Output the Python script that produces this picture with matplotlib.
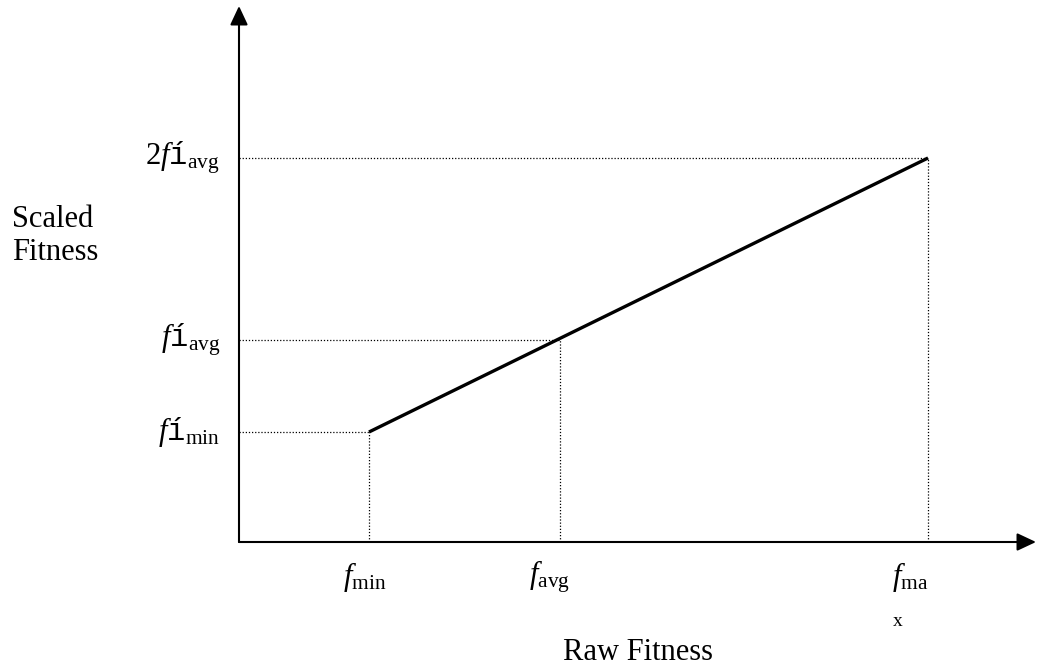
import matplotlib
matplotlib.use("Agg")
import matplotlib.pyplot as plt

# Fitness scaling diagram (schematic values, 1 unit = 100 px)
raw_points = [1.30, 3.21, 6.89]          # f_min, f_avg, f_max
scaled_points = [1.10, 2.02, 3.84]       # f'_min, f'_avg, 2f'_avg
x_labels = [r"$\mathit{f}\mathrm{_{min}}$", r"$\mathit{f}\mathrm{_{avg}}$", r"$\mathit{f}\mathrm{_{ma}}$"]
y_labels = [r"$\mathit{f}\mathtt{í}\mathrm{_{min}}$", r"$\mathit{f}\mathtt{í}\mathrm{_{avg}}$",
            r"$\mathit{2f}\mathtt{í}\mathrm{_{avg}}$"]

plt.rcParams["font.family"] = "Liberation Serif"
plt.rcParams["mathtext.fontset"] = "custom"
plt.rcParams["mathtext.it"] = "Liberation Serif:italic"
plt.rcParams["mathtext.rm"] = "Liberation Serif"
plt.rcParams["mathtext.tt"] = "Liberation Mono"

fig = plt.figure(figsize=(10.38, 6.71), dpi=100)
ax = fig.add_axes([0, 0, 1, 1])
ax.set_xlim(-2.39, 7.99)
ax.set_ylim(-1.29, 5.42)
ax.axis("off")

# axes with arrows
arrow = dict(arrowstyle="-|>,head_length=0.64,head_width=0.3", mutation_scale=18,
             lw=1.5, color="black", shrinkA=0, shrinkB=0)
ax.annotate("", xy=(0, 5.36), xytext=(0, 0), arrowprops=arrow)
ax.annotate("", xy=(7.97, 0), xytext=(0, 0), arrowprops=arrow)

# dotted guides
for x, y in zip(raw_points, scaled_points):
    ax.plot([0, x], [y, y], color="black", lw=0.9, ls=(0, (1, 1.5)))
    ax.plot([x, x], [0, y], color="black", lw=0.9, ls=(0, (1, 1.5)))

# scaling line
ax.plot([raw_points[0], raw_points[-1]], [scaled_points[0], scaled_points[-1]],
        color="black", lw=2.4, solid_capstyle="butt")

fs = 22
for x, dx, lab in zip(raw_points, [-0.04, -0.10, -0.18], x_labels):
    ax.text(x + dx, -0.35, lab, fontsize=fs, ha="center", va="center")
ax.text(raw_points[-1] - 0.30, -0.79, "x", fontsize=14, ha="center", va="center")
for y, lab in zip(scaled_points, y_labels):
    ax.text(-0.19, y, lab, fontsize=fs, ha="right", va="center")

ax.text(-2.27, 3.06, "Scaled\nFitness", fontsize=fs, ha="left", va="center", linespacing=1.2)
ax.text(3.99, -1.11, "Raw Fitness", fontsize=fs, ha="center", va="center")

fig.savefig("out.png", dpi=100)
